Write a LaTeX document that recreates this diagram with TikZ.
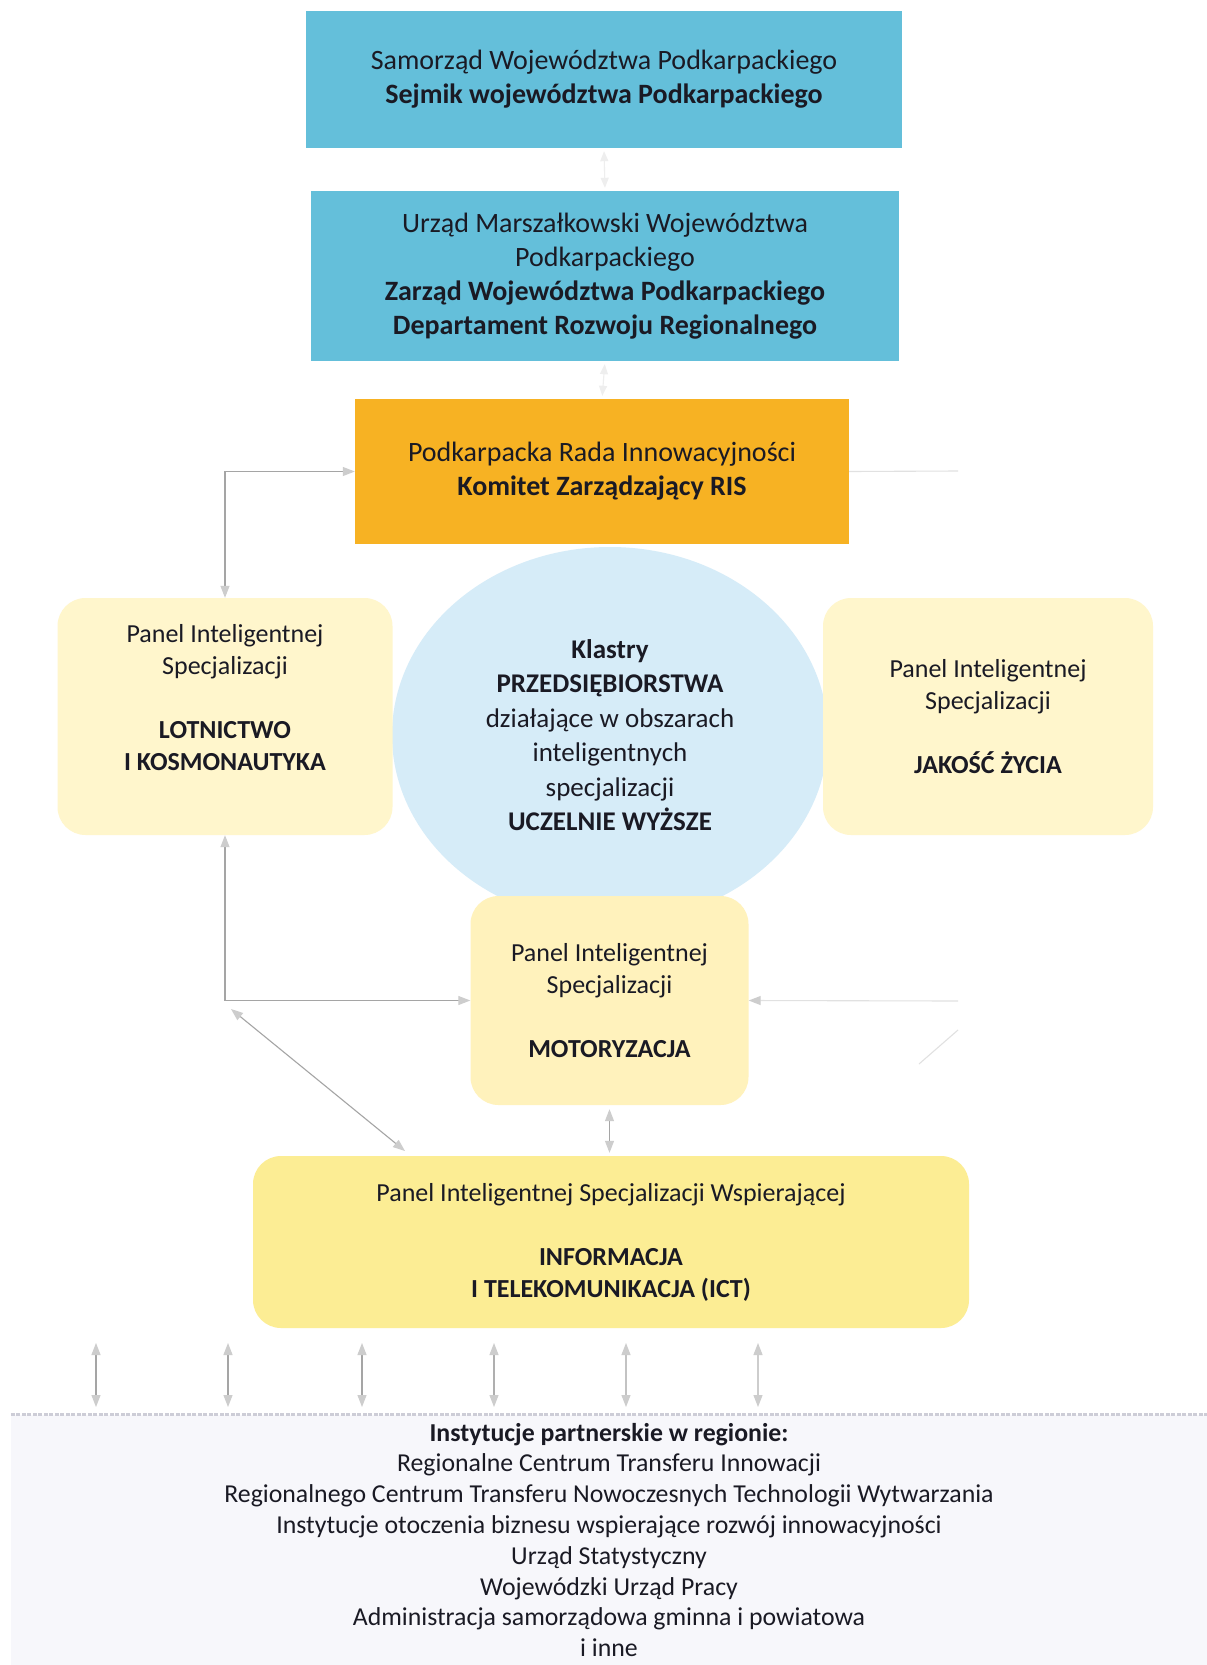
\documentclass[tikz,border=0pt]{standalone}
\usepackage{fontspec}
\setmainfont{Carlito}
\usetikzlibrary{arrows.meta,shapes.geometric}
\definecolor{boxblue}{RGB}{100,191,218}
\definecolor{risorange}{RGB}{247,178,35}
\definecolor{panelpale}{RGB}{255,246,204}
\definecolor{panelmoto}{RGB}{255,242,188}
\definecolor{panelict}{RGB}{252,237,148}
\definecolor{ellblue}{RGB}{214,236,248}
\definecolor{textdark}{RGB}{26,26,36}
\definecolor{conngrey}{RGB}{165,165,165}
\definecolor{tipgrey}{RGB}{205,205,205}
\definecolor{faintgrey}{RGB}{225,225,225}
\definecolor{veryfaint}{RGB}{238,238,238}
\definecolor{instbg}{RGB}{247,247,251}
\definecolor{instline}{RGB}{205,205,215}
\begin{document}
\begin{tikzpicture}[x=1pt,y=-1pt,
  every node/.style={text=textdark, align=center, inner sep=0pt},
  bigfont/.style={font=\fontsize{28}{34}\selectfont},
  panelfont/.style={font=\fontsize{26}{32}\selectfont},
  bluebox/.style={fill=boxblue, bigfont},
  panelbox/.style={rounded corners=28pt, panelfont},
  conn/.style={draw=conngrey, line width=1.1pt},
  faint/.style={draw=faintgrey, line width=1.1pt},
  tipb/.style={{Triangle[length=12pt,width=9pt,fill=tipgrey,color=tipgrey]}-{Triangle[length=12pt,width=9pt,fill=tipgrey,color=tipgrey]}},
  tipe/.style={-{Triangle[length=12pt,width=9pt,fill=tipgrey,color=tipgrey]}}
]
\useasboundingbox (0,0) rectangle (1207,1665);
\fill[white] (0,0) rectangle (1207,1665);

% bottom institutions band
\node[fill=instbg, minimum width=1196pt, minimum height=250pt,
      font=\fontsize{25.8}{30.8}\selectfont] (inst) at (609,1540)
  {\textbf{Instytucje partnerskie w regionie:}\\
   Regionalne Centrum Transferu Innowacji\\
   Regionalnego Centrum Transferu Nowoczesnych Technologii Wytwarzania\\
   Instytucje otoczenia biznesu wspierające rozwój innowacyjności\\
   Urząd Statystyczny\\
   Wojewódzki Urząd Pracy\\
   Administracja samorządowa gminna i powiatowa\\
   i inne};
\draw[instline, line width=3pt, dash pattern=on 4pt off 1.5pt] (inst.north west) -- (inst.north east);

% top boxes
\node[bluebox, minimum width=596pt, minimum height=137pt] (sejm) at (604,79.5)
  {Samorząd Województwa Podkarpackiego\\ \textbf{Sejmik województwa Podkarpackiego}};
\node[bluebox, minimum width=588pt, minimum height=170pt] (urz) at (605,276)
  {Urząd Marszałkowski Województwa\\ Podkarpackiego\\
   \textbf{Zarząd Województwa Podkarpackiego}\\
   \textbf{Departament Rozwoju Regionalnego}};
\node[fill=risorange, bigfont, minimum width=494pt, minimum height=145pt] (ris) at (602,471.5)
  {Podkarpacka Rada Innowacyjności\\ \textbf{Komitet Zarządzający RIS}};

% centre ellipse
\node[ellipse, fill=ellblue, minimum width=436pt, minimum height=376pt,
      font=\fontsize{27}{34.5}\selectfont] (klast) at (610,735)
  {\textbf{Klastry}\\ \textbf{PRZEDSIĘBIORSTWA}\\ działające w obszarach\\
   inteligentnych\\ specjalizacji\\ \textbf{UCZELNIE WYŻSZE}};

% panels
\node[panelbox, fill=panelpale, minimum width=335pt, minimum height=237pt] (lot) at (225,716.5)
  {Panel Inteligentnej\\ Specjalizacji\\[32pt] \textbf{LOTNICTWO}\\ \textbf{I KOSMONAUTYKA}\\[6pt]\mbox{}};
\node[panelbox, fill=panelpale, minimum width=330pt, minimum height=237pt] (jak) at (988,716.5)
  {Panel Inteligentnej\\ Specjalizacji\\[32pt] \textbf{JAKOŚĆ ŻYCIA}};
\node[panelbox, fill=panelmoto, minimum width=278pt, minimum height=209pt] (moto) at (609.5,1000.5)
  {Panel Inteligentnej\\ Specjalizacji\\[32pt] \textbf{MOTORYZACJA}};
\node[panelbox, fill=panelict, minimum width=716pt, minimum height=172pt] (ict) at (611,1242)
  {Panel Inteligentnej Specjalizacji Wspierającej\\[32pt]
   \textbf{INFORMACJA}\\ \textbf{I TELEKOMUNIKACJA (ICT)}};

% faint links between top boxes
\draw[draw=veryfaint, line width=1.1pt,
      {Triangle[length=10pt,width=8pt,fill=veryfaint,color=veryfaint]}-{Triangle[length=10pt,width=8pt,fill=veryfaint,color=veryfaint]},
      shorten <=3pt, shorten >=3pt] (sejm.south) -- (urz.north);
\draw[draw=veryfaint, line width=1.1pt,
      {Triangle[length=10pt,width=8pt,fill=veryfaint,color=veryfaint]}-{Triangle[length=10pt,width=8pt,fill=veryfaint,color=veryfaint]},
      shorten <=3pt, shorten >=3pt] (urz.south) -- (ris.north);

% connectors
\draw[conn, tipb] (lot.north) |- (ris.west);
\draw[conn, tipb] (lot.south) |- (moto.west);
\coordinate (dga) at (231,1009);
\coordinate (dgb) at (405,1151);
\draw[conn, tipb] (dga) -- (dgb);
\draw[conn, tipb, shorten <=4pt, shorten >=3pt] (moto.south) -- (moto.south |- ict.north);

% faint right-hand links
\coordinate (rra) at (958,471);
\draw[faint] (ris.east) -- (rra);
\coordinate (rma) at (958,1001);
\draw[faint, tipe] (rma) -- (moto.east);
\coordinate (rda) at (958,1030);
\coordinate (rdb) at (919,1064);
\draw[faint] (rda) -- (rdb);

% arrows to partner institutions
\foreach \x/\c [count=\i] in {96/165, 228/165, 362/165, 494/175, 626/195, 758/205} {
  \coordinate (ua\i) at (\x,1343);
  \coordinate (ub\i) at (\x,1407);
  \definecolor{tmpc}{RGB}{\c,\c,\c}
  \draw[draw=tmpc, line width=1.1pt, tipb] (ua\i) -- (ub\i);
}
\end{tikzpicture}
\end{document}
